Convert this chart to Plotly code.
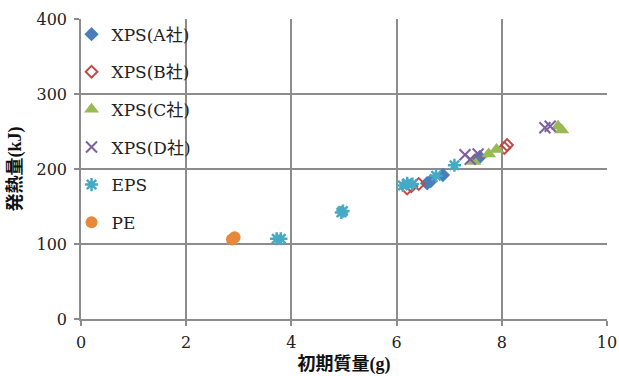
import plotly.graph_objects as go

# Initial mass (g) and heat release (kJ) for each material
xps_a_mass = [6.58, 6.65, 6.88, 7.58]
xps_a_heat = [181, 184, 192, 216]

xps_b_mass = [6.2, 6.28, 6.42, 8.05, 8.1]
xps_b_heat = [174, 177, 180, 228, 232]

xps_c_mass = [7.47, 7.75, 7.9, 9.07, 9.14]
xps_c_heat = [210, 220, 226, 257, 252]

xps_d_mass = [7.3, 7.4, 7.55, 8.82, 8.92]
xps_d_heat = [219, 213, 220, 255, 257]

eps_mass = [3.72, 3.8, 4.95, 4.98, 6.12, 6.2, 6.3, 6.75, 7.1]
eps_heat = [107, 107, 142, 144, 178, 181, 180, 191, 205]

pe_mass = [2.87, 2.92]
pe_heat = [106, 109]

x_ticks = [0, 2, 4, 6, 8, 10]
y_ticks = [0, 100, 200, 300, 400]

SERIF = "'DejaVu Serif', 'Noto Sans CJK JP', serif"
TITLE_FONT = "'Liberation Serif', 'Noto Sans CJK JP', serif"
GRID = "#8c8c8c"

series = [
    ("XPS(A社)", xps_a_mass, xps_a_heat,
     dict(symbol="diamond", size=11, color="#4A7EBB")),
    ("XPS(B社)", xps_b_mass, xps_b_heat,
     dict(symbol="diamond-open", size=9, color="#BE4B48",
          line=dict(color="#BE4B48", width=2))),
    ("XPS(C社)", xps_c_mass, xps_c_heat,
     dict(symbol="triangle-up", size=13, color="#98B954")),
    ("XPS(D社)", xps_d_mass, xps_d_heat,
     dict(symbol="x-thin-open", size=11, color="#7D60A0",
          line=dict(color="#7D60A0", width=2))),
    ("EPS", eps_mass, eps_heat,
     dict(symbol="asterisk-open", size=11, color="#46AAC5",
          line=dict(color="#46AAC5", width=2.5))),
    ("PE", pe_mass, pe_heat,
     dict(symbol="circle", size=12, color="#E8883A")),
]

fig = go.Figure()
for i, (name, xs, ys, marker) in enumerate(series):
    fig.add_trace(go.Scatter(
        x=xs, y=ys, mode="markers", name=name, marker=marker,
        legendgroup=f"g{i}",
    ))

axis_common = dict(
    ticks="outside", ticklen=5, tickcolor=GRID, tickwidth=1.5,
    showgrid=True, gridcolor=GRID, gridwidth=1.5,
    showline=True, linecolor=GRID, linewidth=1.5,
    zeroline=False, automargin=False,
    tickfont=dict(family=SERIF, size=16, color="#222222"),
)

fig.update_layout(
    width=619,
    height=376,
    margin=dict(l=81, r=12, t=19, b=57),
    paper_bgcolor="white",
    plot_bgcolor="white",
    font=dict(family=SERIF, size=17, color="#222222"),
    legend=dict(
        x=-0.018, y=1.008, xanchor="left", yanchor="top",
        bgcolor="rgba(255,255,255,0)",
        traceorder="grouped",
        tracegroupgap=12.5,
        maxheight=370,
        font=dict(family=SERIF, size=17, color="#222222"),
        itemwidth=30,
    ),
    xaxis=dict(
        range=[0, 10],
        tickvals=x_ticks,
        ticklabelstandoff=3,
        title=dict(text="<b>初期質量(g)</b>", standoff=6,
                   font=dict(family=TITLE_FONT, size=18, color="#111111")),
        **axis_common,
    ),
    yaxis=dict(
        range=[0, 400],
        tickvals=y_ticks,
        ticklabelstandoff=4,
        title=dict(text="<b>発熱量(kJ)</b>", standoff=10,
                   font=dict(family=TITLE_FONT, size=18, color="#111111")),
        **axis_common,
    ),
)

fig.write_html("out.html")
